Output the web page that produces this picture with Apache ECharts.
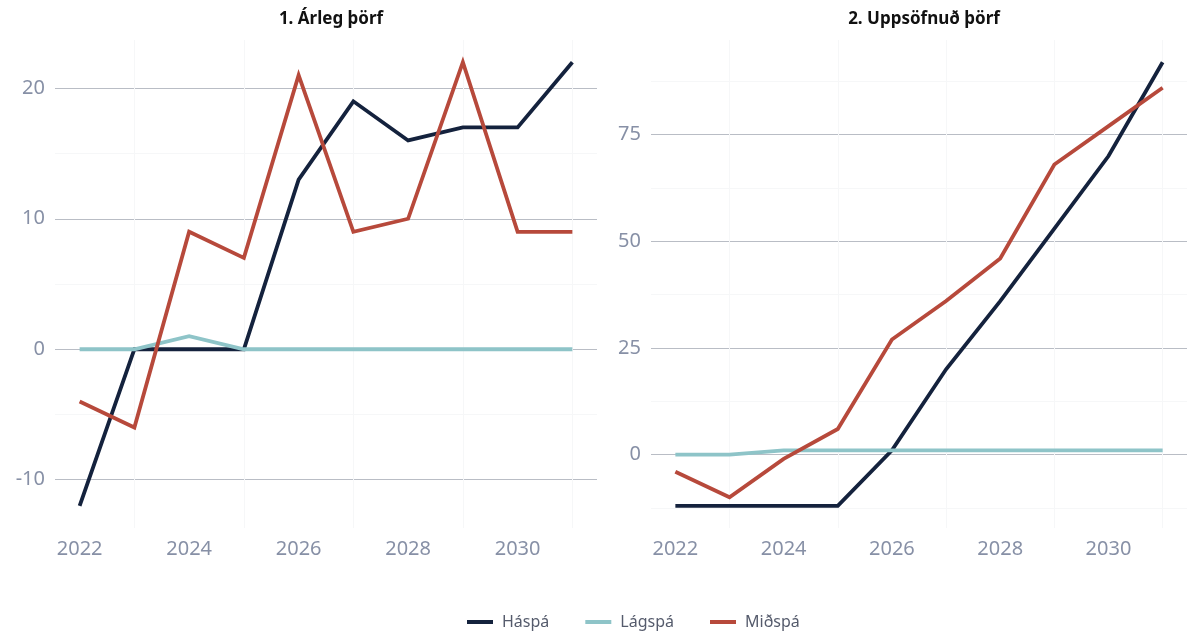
<!DOCTYPE html>
<html>
<head>
<meta charset="utf-8">
<script src="https://cdn.jsdelivr.net/npm/echarts@6/dist/echarts.min.js"></script>
<style>
  html, body { margin: 0; padding: 0; background: #fff; }
  #chart { width: 1187px; height: 632px; }
</style>
</head>
<body>
<div id="chart"></div>
<script>
// ár
const years = [2022, 2023, 2024, 2025, 2026, 2027, 2028, 2029, 2030, 2031]
const xLabels = [2022, 2024, 2026, 2028, 2030]
const xMinor = [2023, 2025, 2027, 2029, 2031]

// 1. Árleg þörf
const arlegHaspa = [-12, 0, 0, 0, 13, 19, 16, 17, 17, 22]
const arlegLagspa = [0, 0, 1, 0, 0, 0, 0, 0, 0, 0]
const arlegMidspa = [-4, -6, 9, 7, 21, 9, 10, 22, 9, 9]
const arlegTicks = [-10, 0, 10, 20]
const arlegMinor = [-5, 5, 15]

// 2. Uppsöfnuð þörf
const uppsHaspa = [-12, -12, -12, -12, 1, 20, 36, 53, 70, 92]
const uppsLagspa = [0, 0, 1, 1, 1, 1, 1, 1, 1, 1]
const uppsMidspa = [-4, -10, -1, 6, 27, 36, 46, 68, 77, 86]
const uppsTicks = [0, 25, 50, 75]
const uppsMinor = [-12.5, 12.5, 37.5, 62.5, 87.5]

const seriesNames = ['Háspá', 'Lágspá', 'Miðspá']
const colors = ['#14223d', '#8ec4c8', '#b7493b']

const font = 'Noto Sans'
const labelColor = '#8790a6'

function pairs (vals) {
  return years.map((y, i) => [y, vals[i]])
}

// ggplot-style 5% expansion around the data
function expand (lo, hi) {
  const pad = (hi - lo) * 0.05
  return [lo - pad, hi + pad]
}

function xAxisFor (gridIndex) {
  const ext = expand(years[0], years[years.length - 1])
  return {
    type: 'value',
    gridIndex: gridIndex,
    min: ext[0],
    max: ext[1],
    axisLine: { show: false },
    axisTick: { show: false, customValues: xLabels },
    splitLine: { show: false },
    axisLabel: {
      customValues: xLabels,
      color: labelColor,
      fontFamily: font,
      fontSize: 20,
      margin: 11,
      formatter: v => String(v)
    }
  }
}

function yAxisFor (gridIndex, all, ticks) {
  const ext = expand(Math.min(...all), Math.max(...all))
  return {
    type: 'value',
    gridIndex: gridIndex,
    min: ext[0],
    max: ext[1],
    axisLine: { show: false },
    axisTick: { show: false, customValues: ticks },
    splitLine: { show: true, lineStyle: { color: '#b9bdc5', width: 1 } },
    axisLabel: {
      customValues: ticks,
      color: labelColor,
      fontFamily: font,
      fontSize: 20,
      margin: 10
    }
  }
}

function lineSeries (name, vals, idx, gridIndex) {
  return {
    name: name,
    type: 'line',
    xAxisIndex: gridIndex,
    yAxisIndex: gridIndex,
    data: pairs(vals),
    showSymbol: false,
    symbol: 'none',
    z: 3,
    lineStyle: { color: colors[idx], width: 3.8, join: 'miter' },
    itemStyle: { color: colors[idx] }
  }
}

// very faint minor grid, drawn behind the lines
function minorGrid (gridIndex, yMinor) {
  return {
    type: 'line',
    xAxisIndex: gridIndex,
    yAxisIndex: gridIndex,
    data: [],
    z: 1,
    silent: true,
    markLine: {
      z: 1,
      silent: true,
      symbol: 'none',
      label: { show: false },
      lineStyle: { color: '#f6f7f8', width: 1, type: 'solid' },
      data: xMinor.map(v => ({ xAxis: v })).concat(yMinor.map(v => ({ yAxis: v })))
    }
  }
}

const chart = echarts.init(document.getElementById('chart'))

const options = {
  animation: false,
  backgroundColor: '#ffffff',
  title: [
    {
      text: '1. Árleg þörf',
      left: 326,
      top: 6,
      textAlign: 'center',
      textStyle: { fontFamily: font, fontWeight: 'bold', fontSize: 17, color: '#111' }
    },
    {
      text: '2. Uppsöfnuð þörf',
      left: 919,
      top: 6,
      textAlign: 'center',
      textStyle: { fontFamily: font, fontWeight: 'bold', fontSize: 17, color: '#111' }
    }
  ],
  legend: {
    data: seriesNames,
    top: 609,
    left: 462,
    icon: 'rect',
    itemWidth: 26,
    itemHeight: 4,
    itemGap: 36,
    textStyle: { fontFamily: font, fontSize: 16, color: '#555b6c', padding: [0, 0, 0, 4] }
  },
  grid: [
    { left: 55, right: 590, top: 40, bottom: 104 },
    { left: 651, right: 0, top: 40, bottom: 104 }
  ],
  xAxis: [xAxisFor(0), xAxisFor(1)],
  yAxis: [
    yAxisFor(0, arlegHaspa.concat(arlegLagspa, arlegMidspa), arlegTicks),
    yAxisFor(1, uppsHaspa.concat(uppsLagspa, uppsMidspa), uppsTicks)
  ],
  series: [
    minorGrid(0, arlegMinor),
    minorGrid(1, uppsMinor),
    lineSeries('Háspá', arlegHaspa, 0, 0),
    lineSeries('Lágspá', arlegLagspa, 1, 0),
    lineSeries('Miðspá', arlegMidspa, 2, 0),
    lineSeries('Háspá', uppsHaspa, 0, 1),
    lineSeries('Lágspá', uppsLagspa, 1, 1),
    lineSeries('Miðspá', uppsMidspa, 2, 1)
  ]
}

chart.setOption(options)
</script>
</body>
</html>
